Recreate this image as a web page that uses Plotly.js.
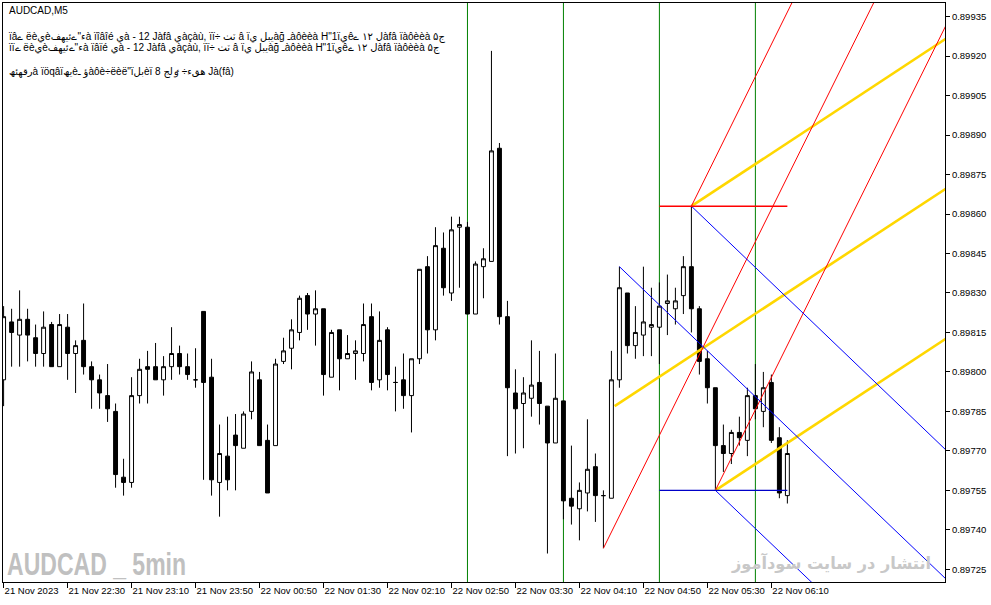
<!DOCTYPE html>
<html><head><meta charset="utf-8">
<script src="https://cdn.plot.ly/plotly-3.0.1.min.js"></script>
<style>html,body{margin:0;padding:0;background:#fff;}#chart{width:991px;height:605px;}</style>
</head><body><div id="chart"></div>
<script>
// ---- candle data (AUDCAD M5), bar index 0..98 ----
const openP = [0.89797,0.89819,0.89814,0.89820,0.89813,0.89807,0.89818,0.89802,0.89817,0.89807,
0.89812,0.89802,0.89797,0.89791,0.89785,0.89760,0.89758,0.89791,0.89802,0.89802,
0.89797,0.89802,0.89807,0.89802,0.89797,0.89823,0.89798,0.89758,0.89768,0.89776,
0.89771,0.89785,0.89797,0.89774,0.89772,0.89804,0.89809,0.89815,0.89829,0.89822,
0.89824,0.89798,0.89816,0.89805,0.89807,0.89807,0.89821,0.89797,0.89816,0.89796,
0.89797,0.89791,0.89805,0.89840,0.89816,0.89847,0.89830,0.89855,0.89855,0.89822,
0.89840,0.89842,0.89885,0.89821,0.89792,0.89788,0.89790,0.89796,0.89787,0.89773,
0.89789,0.89752,0.89748,0.89754,0.89764,0.89753,0.89752,0.89797,0.89830,0.89810,
0.89814,0.89817,0.89817,0.89826,0.89824,0.89829,0.89840,0.89824,0.89805,0.89794,
0.89772,0.89769,0.89777,0.89774,0.89791,0.89785,0.89796,0.89775,0.89753];
const highP = [0.89825,0.89824,0.89831,0.89824,0.89818,0.89823,0.89819,0.89822,0.89822,0.89812,
0.89826,0.89804,0.89799,0.89803,0.89788,0.89767,0.89798,0.89805,0.89808,0.89811,
0.89806,0.89817,0.89810,0.89807,0.89809,0.89823,0.89805,0.89780,0.89783,0.89784,
0.89785,0.89804,0.89800,0.89780,0.89805,0.89813,0.89820,0.89829,0.89830,0.89831,
0.89824,0.89816,0.89816,0.89814,0.89812,0.89826,0.89826,0.89823,0.89817,0.89802,
0.89807,0.89805,0.89839,0.89844,0.89855,0.89853,0.89859,0.89859,0.89857,0.89842,
0.89847,0.89922,0.89887,0.89827,0.89801,0.89798,0.89812,0.89808,0.89787,0.89807,
0.89789,0.89772,0.89758,0.89782,0.89769,0.89755,0.89808,0.89840,0.89830,0.89825,
0.89840,0.89832,0.89834,0.89837,0.89832,0.89844,0.89863,0.89825,0.89808,0.89794,
0.89780,0.89778,0.89783,0.89794,0.89803,0.89800,0.89799,0.89779,0.89774];
const lowP = [0.89787,0.89802,0.89802,0.89804,0.89802,0.89802,0.89802,0.89802,0.89797,0.89792,
0.89799,0.89786,0.89786,0.89781,0.89756,0.89753,0.89756,0.89788,0.89788,0.89797,
0.89791,0.89797,0.89799,0.89797,0.89794,0.89759,0.89753,0.89745,0.89755,0.89755,
0.89771,0.89782,0.89772,0.89754,0.89772,0.89803,0.89801,0.89812,0.89816,0.89810,
0.89791,0.89798,0.89793,0.89805,0.89797,0.89804,0.89793,0.89794,0.89793,0.89785,
0.89786,0.89777,0.89803,0.89807,0.89812,0.89829,0.89827,0.89832,0.89822,0.89822,
0.89828,0.89842,0.89818,0.89768,0.89769,0.89771,0.89783,0.89780,0.89731,0.89773,
0.89744,0.89742,0.89736,0.89747,0.89743,0.89733,0.89752,0.89794,0.89807,0.89805,
0.89806,0.89806,0.89803,0.89814,0.89818,0.89822,0.89815,0.89799,0.89788,0.89755,
0.89762,0.89765,0.89772,0.89768,0.89782,0.89779,0.89773,0.89752,0.89750];
const closeP = [0.89821,0.89815,0.89820,0.89814,0.89807,0.89817,0.89802,0.89818,0.89807,0.89810,
0.89802,0.89797,0.89792,0.89786,0.89761,0.89758,0.89791,0.89801,0.89801,0.89797,
0.89802,0.89807,0.89802,0.89799,0.89797,0.89796,0.89759,0.89769,0.89759,0.89772,
0.89784,0.89800,0.89772,0.89754,0.89803,0.89808,0.89816,0.89828,0.89822,0.89824,
0.89799,0.89815,0.89805,0.89807,0.89808,0.89818,0.89796,0.89812,0.89799,0.89796,
0.89791,0.89805,0.89839,0.89816,0.89848,0.89832,0.89854,0.89856,0.89822,0.89841,
0.89843,0.89884,0.89821,0.89794,0.89786,0.89792,0.89795,0.89788,0.89773,0.89790,
0.89751,0.89749,0.89755,0.89763,0.89753,0.89753,0.89797,0.89832,0.89810,0.89815,
0.89819,0.89818,0.89825,0.89827,0.89827,0.89840,0.89824,0.89804,0.89794,0.89772,
0.89769,0.89777,0.89775,0.89791,0.89786,0.89794,0.89774,0.89754,0.89769];

// ---- time axis labels (every 8 bars) ----
const tickBars = [0,8,16,24,32,40,48,56,64,72,80,88,96];
const tickLabels = ["21 Nov 2023","21 Nov 22:30","21 Nov 23:10","21 Nov 23:50","22 Nov 00:50",
  "22 Nov 01:30","22 Nov 02:10","22 Nov 02:50","22 Nov 03:30","22 Nov 04:10","22 Nov 04:50",
  "22 Nov 05:30","22 Nov 06:10"];

// ---- hourly separators (bar index) ----
const separatorBars = [58,70,82,94];

// ---- drawn objects: trend lines (bar index, price) ----
const redStartBar = [75,86,89];
const redStartPrice = [0.89733,0.89863,0.89755];
const redEndBar = [120,120,120];
const redEndPrice = [0.90009,0.90072,0.89945];

const blueStartBar = [77,86,89];
const blueStartPrice = [0.89840,0.89863,0.89755];
const blueEndBar = [120,120,120];
const blueEndPrice = [0.89715,0.89764,0.89665];

const goldStartBar = [76.4,86,89];
const goldStartPrice = [0.89787,0.89863,0.89755];
const goldEndBar = [120,120,120];
const goldEndPrice = [0.89874,0.89931,0.89817];

const levelBars = [82,98];
const redLevel = 0.89863;
const blueLevel = 0.89755;

// ---- layout helpers ----
const W = 991, H = 605;
const M = {l:3, r:46, t:3, b:23};
const px = x => (x - M.l) / (W - M.l - M.r);
const py = y => (H - M.b - y) / (H - M.t - M.b);

const bars = openP.map((_, i) => i);
const traces = [];
traces.push({
  type:'candlestick', x:bars, open:openP, high:highP, low:lowP, close:closeP,
  increasing:{line:{color:'#000000', width:1}, fillcolor:'#ffffff'},
  decreasing:{line:{color:'#000000', width:1}, fillcolor:'#000000'},
  whiskerwidth:0, hoverinfo:'skip', showlegend:false
});
function addLines(sb, sp, eb, ep, color, width){
  for (let i = 0; i < sb.length; i++) {
    traces.push({type:'scatter', mode:'lines', x:[sb[i], eb[i]], y:[sp[i], ep[i]],
      line:{color:color, width:width}, hoverinfo:'skip', showlegend:false});
  }
}
addLines(goldStartBar, goldStartPrice, goldEndBar, goldEndPrice, '#ffd700', 2.6);
addLines(redStartBar, redStartPrice, redEndBar, redEndPrice, '#ff0000', 1);
addLines(blueStartBar, blueStartPrice, blueEndBar, blueEndPrice, '#0000ff', 1);
traces.push({type:'scatter', mode:'lines', x:levelBars, y:[redLevel, redLevel],
  line:{color:'#ff0000', width:1.5}, hoverinfo:'skip', showlegend:false});
traces.push({type:'scatter', mode:'lines', x:levelBars, y:[blueLevel, blueLevel],
  line:{color:'#0000c8', width:1.2}, hoverinfo:'skip', showlegend:false});

const shapes = separatorBars.map(b => ({type:'line', xref:'x', yref:'paper', x0:b, x1:b, y0:0, y1:1,
  line:{color:'#008000', width:1}, layer:'below'}));

const txtFont = {family:'Liberation Sans, DejaVu Sans, sans-serif', size:10, color:'#000000'};
const annotations = [
  {text:'AUDCAD,M5', x:px(7), y:py(10)},
  {text:'ïâے ëèيèء"ےئيهفà ïîâîé يà - 12 Jàfâ يàçàù, ïï÷ ٽٺ â ïيبل يàğ ـàôèèà H"1ïيêل ١٢ ےàfâ ïàôèèà ۵ج', x:px(7), y:py(37)},
  {text:'ïïے ëèيèء"ےئيهفà ïâïé يà - 12 Jàfâ يàçàù, ïï÷ ٽٺ â ïيبل يàğ ـàôèèà H"1ïيêل ١٢ ےàfâ ïàôèèà ۵ج', x:px(7), y:py(48)},
  {text:'ﺭقھئھà ïöqâïیھèؤ ـàôè÷ëèë"ïبلèï ھقء÷ ٶلج 8 Jà(fâ)', x:px(7), y:py(72)}
].map(a => Object.assign({xref:'paper', yref:'paper', xanchor:'left', yanchor:'middle',
  showarrow:false, font:txtFont}, a));
const WM_EN = 'AUDCAD _ 5min';
const WM_FA = 'انتشار در سایت سودآموز';
annotations.push({text:'<b>' + WM_EN + '</b>', xref:'paper', yref:'paper', x:px(96.5), y:py(564),
  xanchor:'center', yanchor:'middle', showarrow:false,
  font:{family:'Liberation Sans, Arial, sans-serif', size:31, color:'#c0c0c0'}});
annotations.push({text:'<b>' + WM_FA + '</b>', xref:'paper', yref:'paper', x:px(830.5), y:py(563),
  xanchor:'center', yanchor:'middle', showarrow:false,
  font:{family:'DejaVu Sans, Noto Sans, sans-serif', size:16.5, color:'#c8c8c8'}});

const axisFont = {family:'Liberation Sans, Arial, sans-serif', size:9.5, color:'#000000'};
const layout = {
  width:W, height:H, margin:M, paper_bgcolor:'#ffffff', plot_bgcolor:'#ffffff',
  showlegend:false, hovermode:false,
  xaxis:{type:'linear', range:[-0.075, 117.71], tickmode:'array', tickvals:tickBars, ticktext:tickLabels,
    tickangle:0, ticks:'outside', ticklen:5, tickcolor:'#000', tickfont:axisFont, ticklabelposition:'outside right',
    showgrid:false, zeroline:false, showline:true, linecolor:'#000', linewidth:1, mirror:true,
    rangeslider:{visible:false}, fixedrange:true},
  yaxis:{side:'right', range:[0.8972017, 0.8994020], tick0:0.89725, dtick:0.00015, tickformat:'.5f',
    ticks:'outside', ticklen:4, tickcolor:'#000', tickfont:axisFont,
    showgrid:false, zeroline:false, showline:true, linecolor:'#000', linewidth:1, mirror:true, fixedrange:true},
  shapes:shapes, annotations:annotations
};
Plotly.newPlot('chart', traces, layout, {displayModeBar:false, staticPlot:true}).then(gd => {
  // condense the two watermarks to their width in the reference
  const fit = {};
  fit[WM_EN] = 179;
  fit[WM_FA] = 199;
  gd.querySelectorAll('.annotation-text').forEach(t => {
    const w = fit[t.textContent];
    if (w) { t.setAttribute('textLength', w); t.setAttribute('lengthAdjust', 'spacingAndGlyphs'); }
  });
});
</script></body></html>
